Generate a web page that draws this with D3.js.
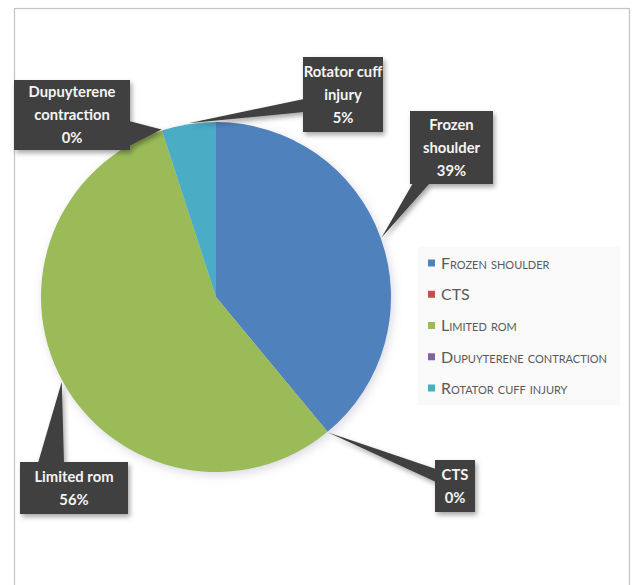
<!DOCTYPE html>
<html><head><meta charset="utf-8">
<script src="https://cdn.jsdelivr.net/npm/d3@7/dist/d3.min.js"></script>
<style>
html,body{margin:0;padding:0;background:#fff;}
svg{display:block;}
</style></head>
<body>
<script>
const categories = ["Frozen shoulder","CTS","Limited rom","Dupuyterene contraction","Rotator cuff injury"];
const values = [39, 0, 56, 0, 5];
const colors = ["#4f81bd","#c0504d","#9bbb59","#8064a2","#4bacc6"];
const labelLines = [["Frozen","shoulder","39%"],["CTS","0%"],["Limited rom","56%"],["Dupuyterene","contraction","0%"],["Rotator cuff","injury","5%"]];
// callout box layout: x,y,w,h and the edge where the pointer attaches
const callouts = [
  {x:410,y:111,w:83,h:73, side:"bottom", a:413, b:430},
  {x:435,y:460,w:40,h:52, side:"left", a:469, b:482},
  {x:20,y:462,w:108,h:52, side:"top", a:38, b:64},
  {x:14,y:80,w:116,h:70, side:"right", a:121, b:146},
  {x:303,y:57,w:80,h:75, side:"left", a:99, b:112}
];

const W=633,H=585;
const svg=d3.select("body").append("svg").attr("width",W).attr("height",H);
const defs=svg.append("defs");
const f1=defs.append("filter").attr("id","pieShadow").attr("x","-20%").attr("y","-20%").attr("width","140%").attr("height","140%");
f1.append("feDropShadow").attr("dx",2).attr("dy",3).attr("stdDeviation",5).attr("flood-color","#8080a0").attr("flood-opacity",0.3);
const f2=defs.append("filter").attr("id","boxShadow").attr("x","-30%").attr("y","-30%").attr("width","160%").attr("height","160%");
f2.append("feDropShadow").attr("dx",2).attr("dy",3).attr("stdDeviation",2.5).attr("flood-color","#000").attr("flood-opacity",0.35);

// frame
svg.append("rect").attr("x",14.5).attr("y",8.5).attr("width",615).attr("height",590)
  .attr("fill","#fff").attr("stroke","#c4c4c4").attr("stroke-width",1.2);

const cx=216, cy=297, r=175;
const data=categories.map((c,i)=>({cat:c,value:values[i],color:colors[i],lines:labelLines[i],box:callouts[i]}));
const pie=d3.pie().sort(null).value(d=>d.value)(data);
const arc=d3.arc().innerRadius(0).outerRadius(r);

const g=svg.append("g").attr("transform",`translate(${cx},${cy})`);
g.append("g").attr("filter","url(#pieShadow)").selectAll("path").data(pie).join("path")
  .attr("d",arc).attr("fill",d=>d.data.color);

// callouts
const cg=svg.append("g");
pie.forEach(p=>{
  const b=p.data.box;
  const ang=(p.startAngle+p.endAngle)/2;
  const tx=cx+Math.sin(ang)*(r+1), ty=cy-Math.cos(ang)*(r+1);
  let p1,p2;
  if(b.side==="bottom"){p1=[b.a,b.y+b.h-1];p2=[b.b,b.y+b.h-1];}
  else if(b.side==="top"){p1=[b.a,b.y+1];p2=[b.b,b.y+1];}
  else if(b.side==="left"){p1=[b.x+1,b.a];p2=[b.x+1,b.b];}
  else {p1=[b.x+b.w-1,b.a];p2=[b.x+b.w-1,b.b];}
  const grp=cg.append("g").attr("filter","url(#boxShadow)");
  grp.append("path").attr("d",`M${tx},${ty}L${p1[0]},${p1[1]}L${p2[0]},${p2[1]}Z`).attr("fill","#404040");
  grp.append("rect").attr("x",b.x).attr("y",b.y).attr("width",b.w).attr("height",b.h).attr("fill","#404040");
  const lh=23;
  const n=p.data.lines.length;
  const y0=b.y+b.h/2-(n-1)*lh/2;
  const t=cg.append("text").attr("text-anchor","middle").attr("fill","#f4f4f4")
    .attr("font-family","Lato, 'Open Sans', sans-serif").attr("font-weight","bold").attr("font-size",14.8);
  p.data.lines.forEach((ln,i)=>{
    t.append("tspan").attr("x",b.x+b.w/2).attr("y",y0+i*lh).attr("dy","0.36em").text(ln);
  });
});

// legend
const lg=svg.append("g");
lg.append("rect").attr("x",418).attr("y",247).attr("width",202).attr("height",158).attr("fill","#f9f9f9");
const ly=d3.scalePoint().domain(categories).range([263,388]);
const items=lg.selectAll("g").data(data).join("g").attr("transform",d=>`translate(428,${ly(d.cat)})`);
items.append("rect").attr("x",0).attr("y",-3.5).attr("width",7).attr("height",7).attr("fill",d=>d.color);
items.append("text").attr("x",13).attr("y",0).attr("dy","0.36em")
  .attr("font-family","Lato, sans-serif").attr("font-size",16).attr("font-variant","small-caps")
  .attr("fill","#595959").text(d=>d.cat);
</script>
</body></html>
